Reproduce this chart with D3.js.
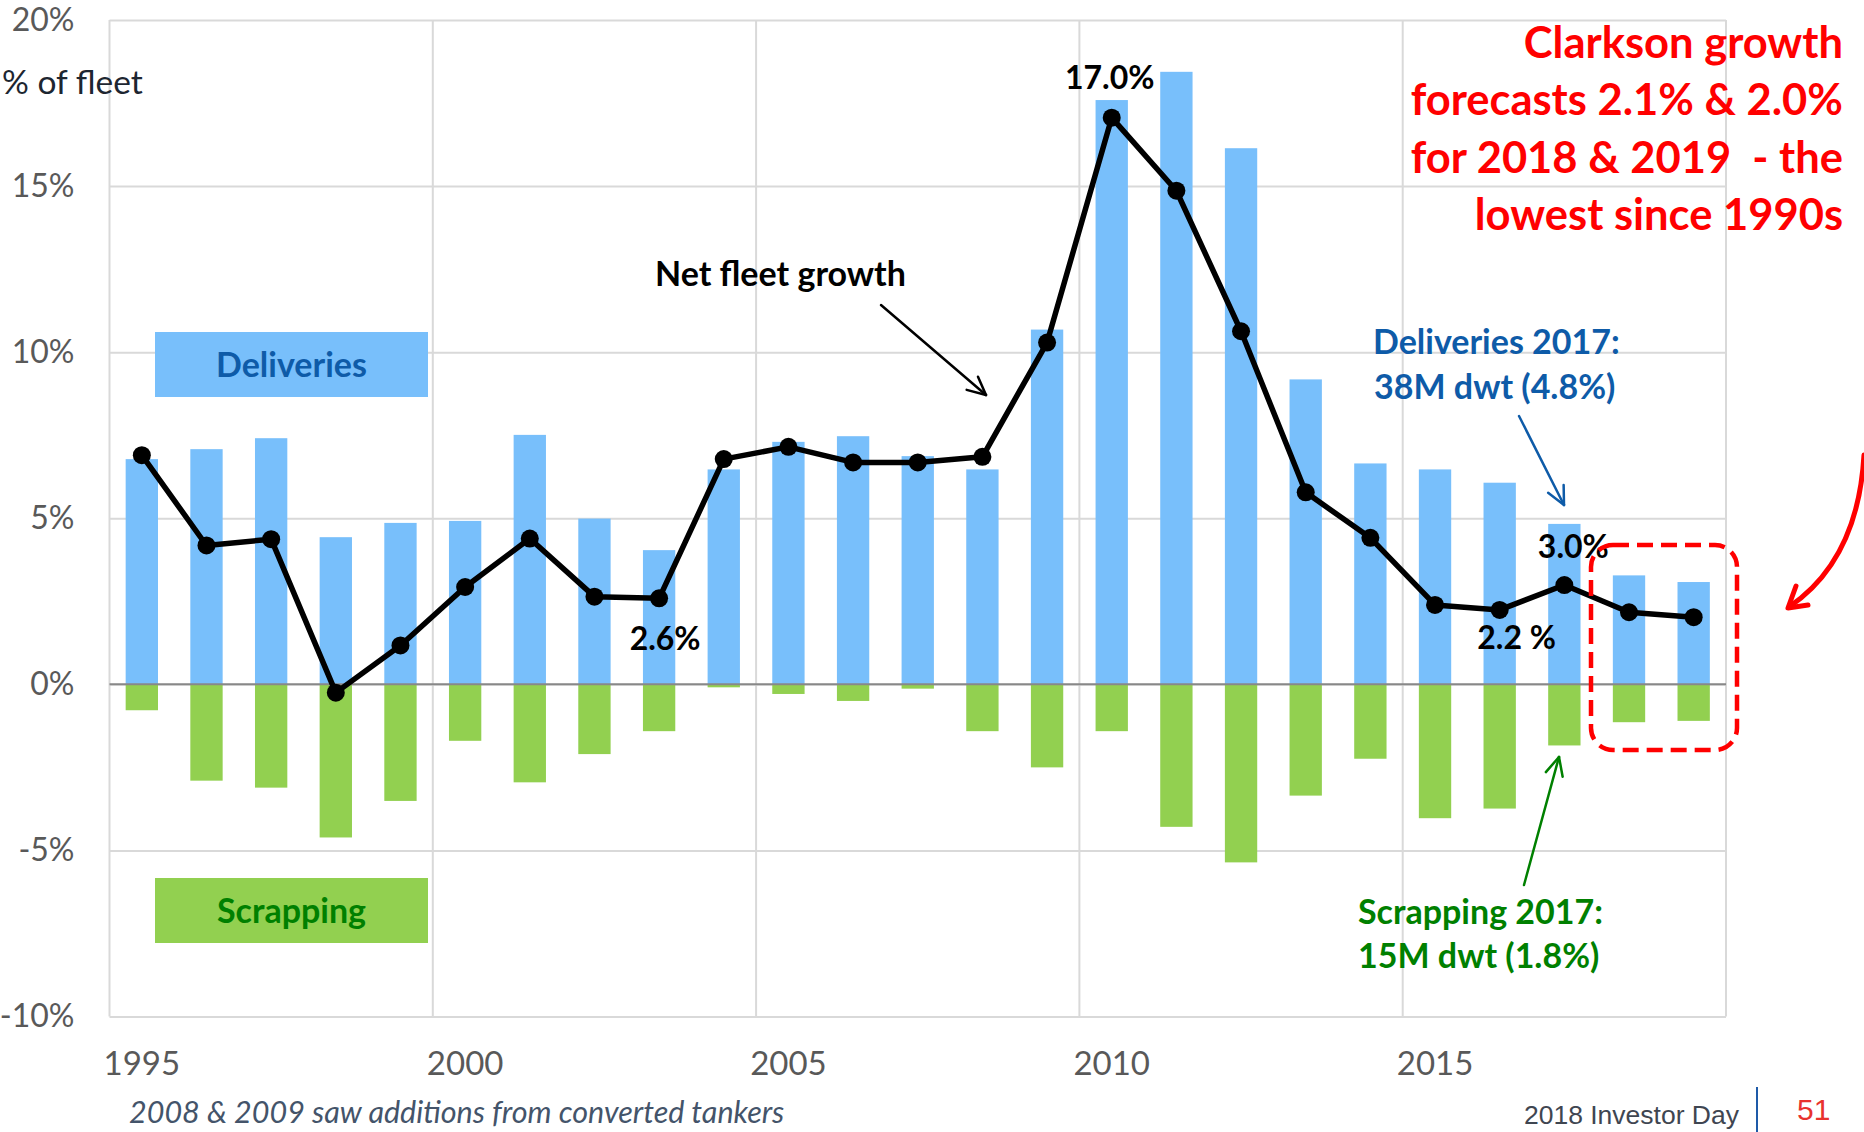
<!DOCTYPE html>
<html>
    <style>
        body { margin: 0; background: #ffffff; }
        svg { display: block; }
        .grid line { stroke: #d9d9d9; stroke-width: 2px; }
        .grid path { display: none; }
        .grid text { fill: #595959; font-family: Lato, "Open Sans", sans-serif; font-size: 32px; }
        .xlabels path, .xlabels line { display: none; }
        .xlabels text { fill: #595959; font-family: Lato, "Open Sans", sans-serif; font-size: 33px; }
        .note { font-family: Lato, "Open Sans", sans-serif; font-weight: bold; }
    </style>
    <script src="https://d3js.org/d3.v7.min.js"></script>
    <body onload="main()">
        <svg></svg>
    </body>
    <script>
        // Values (% of fleet)
        var years = ["1995","1996","1997","1998","1999","2000","2001","2002","2003","2004","2005","2006",
                     "2007","2008","2009","2010","2011","2012","2013","2014","2015","2016","2017","2018","2019"]
        var deliveries = [6.78, 7.08, 7.41, 4.43, 4.86, 4.92, 7.51, 4.99, 4.04, 6.47, 7.30, 7.47,
                          6.87, 6.47, 10.68, 17.59, 18.44, 16.14, 9.18, 6.65, 6.47, 6.07, 4.83, 3.28, 3.08]
        var scrapping = [-0.78, -2.90, -3.11, -4.61, -3.51, -1.70, -2.95, -2.10, -1.41, -0.09, -0.29, -0.50,
                         -0.13, -1.41, -2.50, -1.41, -4.29, -5.36, -3.35, -2.24, -4.03, -3.74, -1.84, -1.14, -1.10]
        var netGrowth = [6.90, 4.18, 4.37, -0.25, 1.17, 2.93, 4.39, 2.64, 2.59, 6.78, 7.15, 6.68,
                         6.68, 6.85, 10.29, 17.06, 14.86, 10.63, 5.78, 4.41, 2.39, 2.24, 2.99, 2.17, 2.02]
        var yTicks = [-10, -5, 0, 5, 10, 15, 20]
        var xTickYears = ["1995", "2000", "2005", "2010", "2015"]
        var pointLabels = [
            {year: "2010", text: "17.0%", dx: -2, dy: -29},
            {year: "2003", text: "2.6%", dx: 6, dy: 52},
            {year: "2017", text: "3.0%", dx: 9, dy: -27},
            {year: "2016", text: "2.2 %", dx: 17, dy: 39}
        ]

        function main() {
            var W = 1864, H = 1132
            var left = 109.5, right = 1726, top = 20, bottom = 1016.5
            var svg = d3.select("svg").attr("width", W).attr("height", H)
            svg.append("rect").attr("width", W).attr("height", H).attr("fill", "#ffffff")

            var x = d3.scaleBand().domain(years).range([left, right]).paddingInner(0.5).paddingOuter(0.25)
            var y = d3.scaleLinear().domain([-10, 20]).range([bottom, top])
            var step = x.step()
            var cx = function(yr) { return x(yr) + x.bandwidth() / 2 }

            // Horizontal gridlines + y tick labels
            svg.append("g")
                .attr("class", "grid")
                .attr("transform", "translate(" + left + ",0)")
                .call(d3.axisLeft(y).tickValues(yTicks).tickSize(-(right - left)).tickPadding(35)
                    .tickFormat(function(d) { return d + "%" }))

            // Vertical gridlines on category boundaries (every 5 years) + borders
            var vBounds = xTickYears.map(function(yr) { return x(yr) - step * 0.25 })
            vBounds.push(right)
            svg.append("g").selectAll("line")
                .data(vBounds)
                .enter().append("line")
                .attr("x1", function(d) { return d }).attr("x2", function(d) { return d })
                .attr("y1", top).attr("y2", bottom)
                .attr("stroke", "#d9d9d9").attr("stroke-width", 2)

            // X labels
            svg.append("g")
                .attr("class", "xlabels")
                .attr("transform", "translate(0," + bottom + ")")
                .call(d3.axisBottom(x).tickValues(xTickYears).tickSize(0).tickPadding(35))

            // Bars
            svg.append("g").selectAll("rect")
                .data(deliveries)
                .enter().append("rect")
                .attr("x", function(d, i) { return x(years[i]) })
                .attr("y", function(d) { return y(d) })
                .attr("width", x.bandwidth())
                .attr("height", function(d) { return y(0) - y(d) })
                .attr("fill", "#78bffb")
            svg.append("g").selectAll("rect")
                .data(scrapping)
                .enter().append("rect")
                .attr("x", function(d, i) { return x(years[i]) })
                .attr("y", y(0))
                .attr("width", x.bandwidth())
                .attr("height", function(d) { return y(d) - y(0) })
                .attr("fill", "#92d050")

            // Zero line
            svg.append("line")
                .attr("x1", left).attr("x2", right)
                .attr("y1", y(0)).attr("y2", y(0))
                .attr("stroke", "#888888").attr("stroke-width", 2)

            // Net fleet growth line
            var line = d3.line()
                .x(function(d, i) { return cx(years[i]) })
                .y(function(d) { return y(d) })
            svg.append("path")
                .datum(netGrowth)
                .attr("d", line)
                .attr("fill", "none")
                .attr("stroke", "#000000")
                .attr("stroke-width", 5.5)
                .attr("stroke-linejoin", "round")
            svg.append("g").selectAll("circle")
                .data(netGrowth)
                .enter().append("circle")
                .attr("cx", function(d, i) { return cx(years[i]) })
                .attr("cy", function(d) { return y(d) })
                .attr("r", 9)
                .attr("fill", "#000000")

            // Point labels
            svg.append("g").selectAll("text")
                .data(pointLabels)
                .enter().append("text")
                .attr("class", "note")
                .attr("x", function(d) { return cx(d.year) + d.dx })
                .attr("y", function(d) { return y(netGrowth[years.indexOf(d.year)]) + d.dy })
                .attr("text-anchor", "middle")
                .style("font-size", "32px")
                .attr("fill", "#000000")
                .text(function(d) { return d.text })

            // "% of fleet"
            svg.append("text")
                .attr("x", 2).attr("y", 94)
                .style("font-family", "Lato, 'Open Sans', sans-serif")
                .style("font-size", "33.5px")
                .attr("fill", "#1d2631")
                .text("% of fleet")

            // Legend-like boxes
            svg.append("rect").attr("x", 155).attr("y", 332).attr("width", 273).attr("height", 65).attr("fill", "#78bffb")
            svg.append("text").attr("class", "note")
                .attr("x", 291.5).attr("y", 377).attr("text-anchor", "middle")
                .style("font-size", "34px").attr("fill", "#0e5ba8").text("Deliveries")
            svg.append("rect").attr("x", 155).attr("y", 878).attr("width", 273).attr("height", 65).attr("fill", "#92d050")
            svg.append("text").attr("class", "note")
                .attr("x", 291.5).attr("y", 923).attr("text-anchor", "middle")
                .style("font-size", "34px").attr("fill", "#008000").text("Scrapping")

            // Arrow helper: line from (x1,y1) to (x2,y2) with open head
            function arrow(x1, y1, x2, y2, color, width, head) {
                var a = Math.atan2(y2 - y1, x2 - x1)
                var g = svg.append("g").attr("stroke", color).attr("stroke-width", width)
                    .attr("fill", "none").attr("stroke-linecap", "round")
                g.append("line").attr("x1", x1).attr("y1", y1).attr("x2", x2).attr("y2", y2)
                ;[-0.45, 0.45].forEach(function(o) {
                    g.append("line").attr("x1", x2).attr("y1", y2)
                        .attr("x2", x2 - head * Math.cos(a + o))
                        .attr("y2", y2 - head * Math.sin(a + o))
                })
            }

            // Net fleet growth note
            svg.append("text").attr("class", "note")
                .attr("x", 655).attr("y", 286)
                .style("font-size", "34px").attr("fill", "#000000").text("Net fleet growth")
            arrow(881, 305, 986, 395, "#000000", 2.5, 20)

            // Deliveries 2017 note
            var blueNote = svg.append("text").attr("class", "note").style("font-size", "34px").attr("fill", "#0e5ba8")
            blueNote.append("tspan").attr("x", 1373).attr("y", 354).text("Deliveries 2017:")
            blueNote.append("tspan").attr("x", 1374).attr("y", 399).text("38M dwt (4.8%)")
            arrow(1519, 416, 1564, 505, "#0e5ba8", 2.5, 20)

            // Scrapping 2017 note
            var greenNote = svg.append("text").attr("class", "note").style("font-size", "34px").attr("fill", "#008000")
            greenNote.append("tspan").attr("x", 1358).attr("y", 924).text("Scrapping 2017:")
            greenNote.append("tspan").attr("x", 1358).attr("y", 968).text("15M dwt (1.8%)")
            arrow(1524, 885, 1559, 757, "#008000", 2.5, 20)

            // Forecast highlight
            svg.append("rect")
                .attr("x", 1591).attr("y", 545).attr("width", 146).attr("height", 205)
                .attr("rx", 22).attr("ry", 22)
                .attr("fill", "none").attr("stroke", "#ff0000").attr("stroke-width", 4.5)
                .attr("stroke-dasharray", "16 8")
            svg.append("path")
                .attr("d", "M1864,455 Q1858,560 1789,607")
                .attr("fill", "none").attr("stroke", "#ff0000").attr("stroke-width", 5).attr("stroke-linecap", "round")
            svg.append("path")
                .attr("d", "M1796,586 L1788,608 L1808,605")
                .attr("fill", "none").attr("stroke", "#ff0000").attr("stroke-width", 5)
                .attr("stroke-linecap", "round").attr("stroke-linejoin", "round")

            var redLines = ["Clarkson growth", "forecasts 2.1% & 2.0%", "for 2018 & 2019  - the", "lowest since 1990s"]
            svg.append("g").selectAll("text")
                .data(redLines)
                .enter().append("text")
                .attr("class", "note")
                .attr("x", 1843)
                .attr("y", function(d, i) { return 58 + i * 57.3 })
                .attr("text-anchor", "end")
                .style("font-size", "43.5px")
                .style("white-space", "pre")
                .attr("fill", "#ff0000")
                .text(function(d) { return d })

            // Footer
            svg.append("text")
                .attr("x", 129).attr("y", 1123)
                .style("font-family", "Lato, 'Open Sans', sans-serif")
                .style("font-style", "italic")
                .style("font-size", "30.5px")
                .attr("fill", "#44546a")
                .text("2008 & 2009 saw additions from converted tankers")
            svg.append("text")
                .attr("x", 1739).attr("y", 1124).attr("text-anchor", "end")
                .style("font-family", "'Liberation Sans Narrow', 'Liberation Sans', sans-serif")
                .style("font-size", "26.5px")
                .attr("fill", "#3f4651")
                .text("2018 Investor Day")
            svg.append("line")
                .attr("x1", 1757).attr("x2", 1757).attr("y1", 1087).attr("y2", 1132)
                .attr("stroke", "#1e5aa8").attr("stroke-width", 2)
            svg.append("text")
                .attr("x", 1797).attr("y", 1120)
                .style("font-family", "'Liberation Sans', sans-serif")
                .style("font-size", "30px")
                .attr("fill", "#e8322e")
                .text("51")
        }
    </script>
</html>
